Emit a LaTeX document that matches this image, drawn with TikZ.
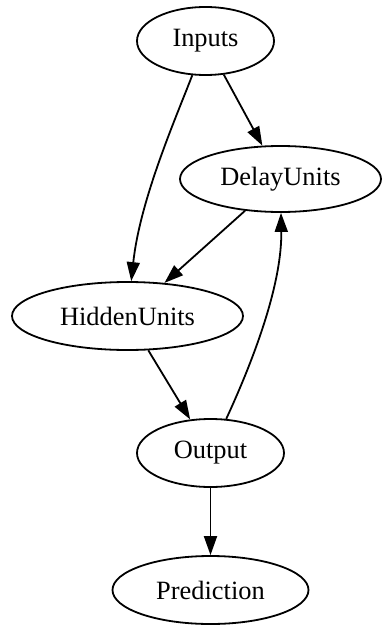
\documentclass[tikz,border=0pt]{standalone}
\usepackage{fontspec}
\setmainfont{Liberation Serif}
\usetikzlibrary{shapes.geometric,arrows.meta}
\begin{document}
\begin{tikzpicture}[x=1pt,y=-1pt,
  gnode/.style={draw=black, ellipse, line width=1.8pt, inner sep=0pt,
    minimum height=68pt, font=\fontsize{26.4}{30}\selectfont},
  garrow/.style={draw=black, line width=1.8pt, -{Triangle[length=19pt,width=13pt]}}]
\useasboundingbox (0,0) rectangle (382,626);
\node[gnode, minimum width=137pt] (in) at (205.5,41) {Inputs};
\node[gnode, minimum width=201pt, minimum height=66pt] (delay) at (280.5,179) {DelayUnits};
\node[gnode, minimum width=231pt] (hidden) at (127.5,316) {HiddenUnits};
\node[gnode, minimum width=147pt] (out) at (210.5,453) {Output};
\node[gnode, minimum width=196pt] (pred) at (210.5,590) {Prediction};
\draw[garrow] (in) -- (delay);
\draw[garrow] (in) .. controls (175,120) and (140,200) .. (hidden);
\draw[garrow] (delay) -- (hidden);
\draw[garrow] (hidden) -- (out);
\draw[garrow] (out) .. controls (258,350) and (282,280) .. (delay);
\draw[garrow] (out) -- (pred);
\end{tikzpicture}
\end{document}
